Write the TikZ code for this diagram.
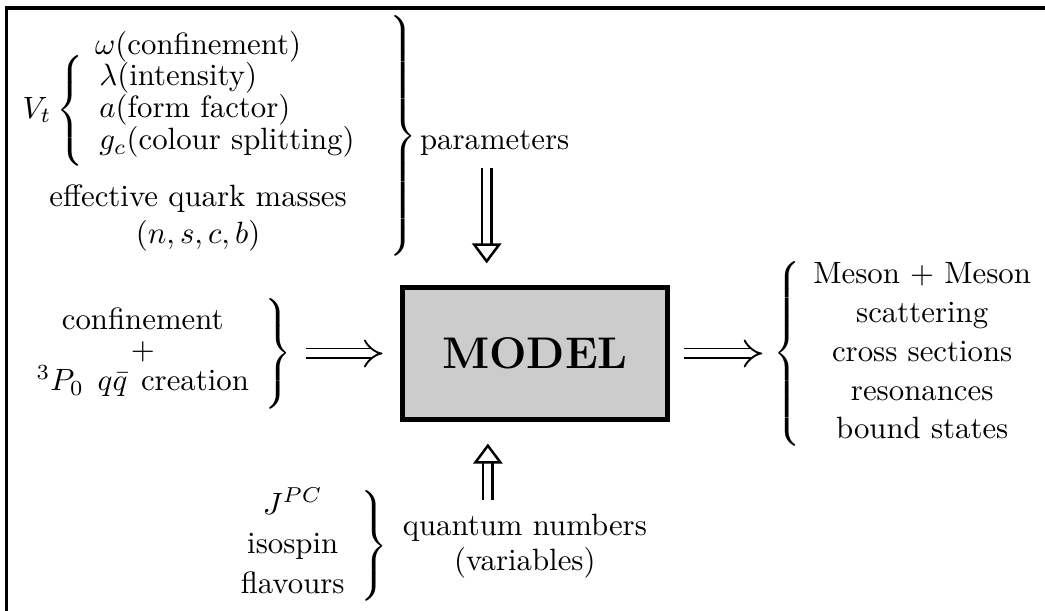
\documentclass[tikz,border=0pt]{standalone}
\usepackage{amsmath}
\usepackage{amssymb}
\usepackage{xcolor}
\usepackage{tikz}
\usetikzlibrary{arrows.meta, positioning, calc}

\begin{document}
\begin{tikzpicture}[
        x=0.3247pt, y=-0.3247pt,
        modelbox/.style={rectangle, draw, line width=1.6pt, fill=black!20, minimum width=86pt, minimum height=42.9pt, font=\Large\bfseries},
        bracegroup/.style={inner sep=0pt, align=center},
        dblarrow/.style={double, double distance=2.6pt, line width=0.6pt, -Implies},
        hollowarrow/.style={double, double distance=2.2pt, thick, -{Triangle[open, length=6.5pt, width=9.5pt]}}
    ]
    \useasboundingbox (0,0) rectangle (1045,611);

    % Frame
    \draw[line width=1pt] (6.5,611) -- (6.5,8) -- (1045,8);

    % Nodes
    \node[modelbox] (model) at (535,353.5) {MODEL};

    \node[bracegroup, anchor=east] (params) at (417,136) {$\left.\begin{array}{c}
        \noalign{\vskip 3.9pt}
        \omega(\text{confinement})\\
        \noalign{\vskip -4pt}
        V_t\left\{\renewcommand{\arraystretch}{0.8}\begin{array}{l}
            \lambda(\text{intensity})\\
            a(\text{form factor})\\
            g_c(\text{colour splitting})
        \end{array}\vcenter{\hbox{\rule{0pt}{37pt}}}\right.\\
        \noalign{\vskip 4.4pt}
        \text{effective quark masses}\\
        (n,s,c,b)
    \end{array}\vcenter{\hbox{\rule{0pt}{80pt}}}\right\}$};
    \node[bracegroup, right=0.8pt of params, yshift=-2.4pt] (parlabel) {parameters};

    \node[bracegroup, left=35pt of model] (mechanism) {$\renewcommand{\arraystretch}{0.78}\left.\begin{array}{c}
        \text{confinement}\\
        \noalign{\vskip 0.5pt}
        +\\
        \noalign{\vskip -1pt}
        {}^3P_0\;\,q\bar{q}\;\,\text{creation}
    \end{array}\vcenter{\hbox{\rule{0pt}{35pt}}}\right\}$};

    \node[bracegroup, right=33.5pt of model] (output) {$\renewcommand{\arraystretch}{1.05}\setlength{\tabcolsep}{4pt}\left\{\begin{tabular}{c}
        Meson + Meson\\
        scattering\\
        cross sections\\
        resonances\\
        bound states
    \end{tabular}\vcenter{\hbox{\rule{0pt}{62pt}}}\right.$};

    \node[bracegroup, anchor=east] (qnumbers) at (388,546) {$\renewcommand{\arraystretch}{1.08}\left.\begin{array}{c}
        J^{PC}\\
        \text{isospin}\\
        \text{flavours}
    \end{array}\right\}$};
    \node[bracegroup, right=4.6pt of qnumbers] (qlabel) {quantum numbers\\[-0.6pt](variables)};

    % Arrows
    \draw[dblarrow, shorten <=4.4pt, shorten >=5.7pt] (mechanism) -- (model);
    \draw[dblarrow, shorten <=4.7pt, shorten >=3.5pt] (model.east) -- (model.east -| output.west);
    \draw[hollowarrow, shorten <=3.9pt, shorten >=7pt] ([xshift=-2.6pt]parlabel.south) -- ([xshift=-2.6pt]parlabel.south |- model.north);
    \draw[hollowarrow, shorten <=4.2pt, shorten >=7pt] ([xshift=-12pt]qlabel.north) -- ([xshift=-12pt]qlabel.north |- model.south);

\end{tikzpicture}
\end{document}
